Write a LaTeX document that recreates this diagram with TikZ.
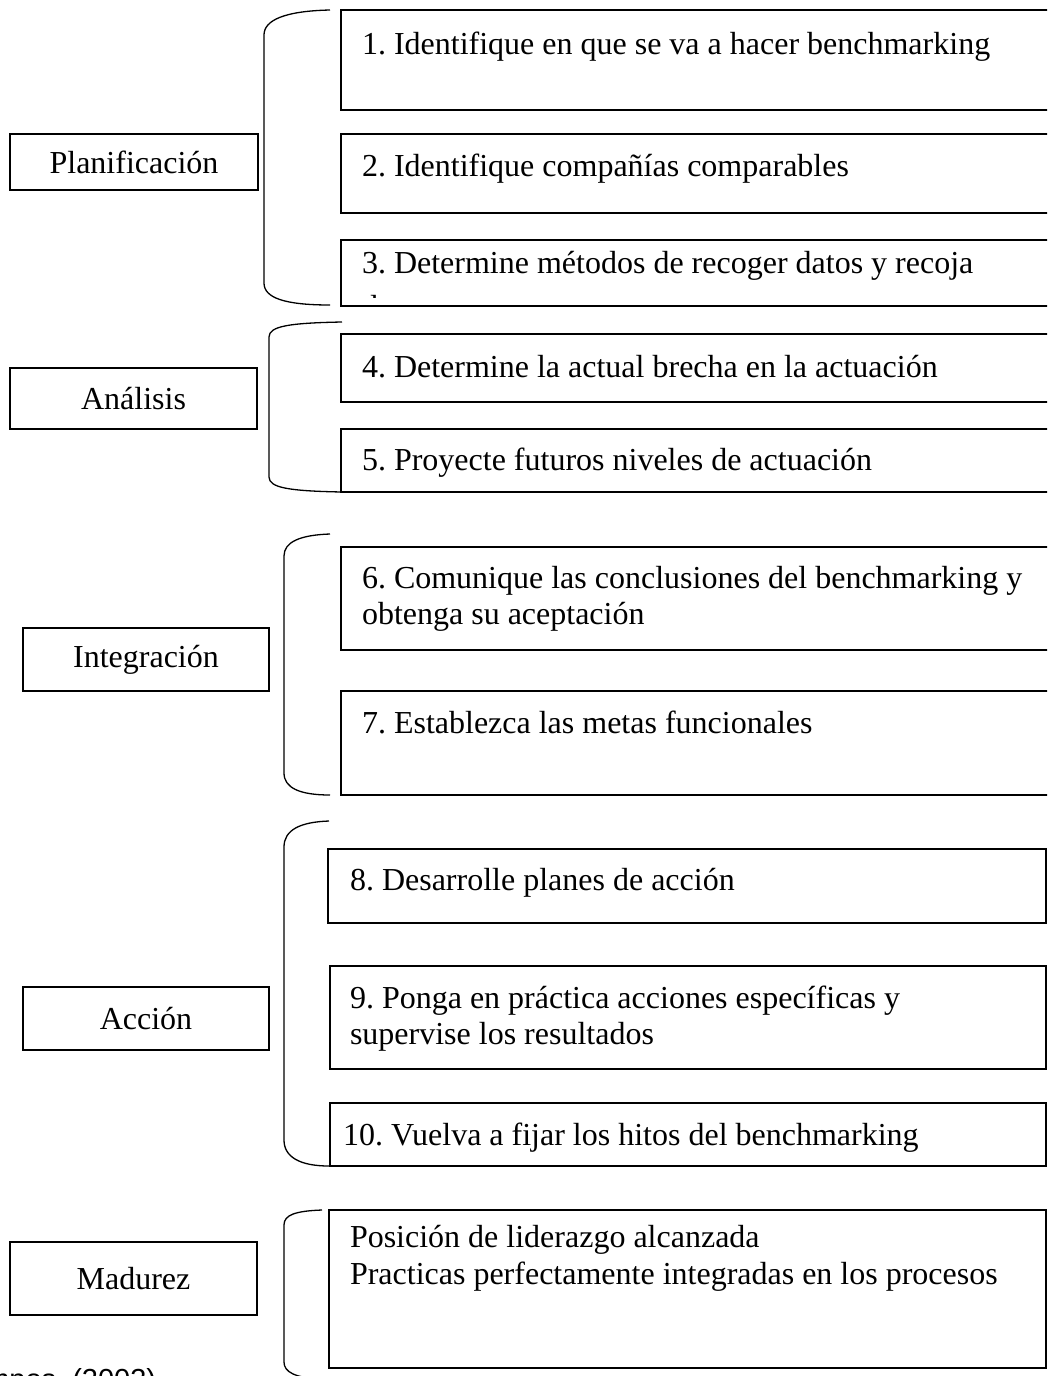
\documentclass[tikz,border=0pt]{standalone}
\usepackage{fontspec}
\setmainfont{Liberation Serif}
\newfontfamily\arialf{Liberation Sans}
\frenchspacing
\begin{document}
\begin{tikzpicture}[x=1pt,y=-1pt,
  box/.style={draw, line width=1.5pt, rectangle, inner sep=0pt, outer sep=0pt, anchor=north west},
  lbl/.style={draw, line width=1.5pt, rectangle, inner sep=0pt, outer sep=0pt, anchor=north west, font=\fontsize{32}{36.8}\selectfont},
  txt/.style={anchor=base west, inner sep=0pt, outer sep=0pt, font=\fontsize{32}{36.8}\selectfont},
  brc/.style={line width=1.3pt}]
\useasboundingbox (0,0) rectangle (1047,1376);
\clip (0,0) rectangle (1047,1376);
\fill[white] (0,0) rectangle (1047,1376);

% label boxes
\node[lbl, minimum width=248pt, minimum height=56pt] (plan) at (10,134) {Planificación};
\node[lbl, minimum width=247pt, minimum height=61pt] (anal) at (10,368) {Análisis};
\node[lbl, minimum width=246pt, minimum height=63pt] (integ) at (23,628) {Integración};
\node[lbl, minimum width=246pt, minimum height=63pt] (accion) at (23,987) {Acción};
\node[lbl, minimum width=247pt, minimum height=73pt] (madur) at (10,1242) {Madurez};

% braces
\draw[brc] (330,10) .. controls (285,11) and (264,20) .. (264,35) -- (264,283) .. controls (264,298) and (285,305) .. (330,305);
\draw[brc] (342,322) .. controls (290,323) and (269,326) .. (269,337) -- (269,477) .. controls (269,488) and (290,491) .. (342,492);
\draw[brc] (330,534) .. controls (300,535) and (284,542) .. (284,556) -- (284,773) .. controls (284,788) and (300,795) .. (330,795);
\draw[brc] (329,821) .. controls (300,822) and (284,830) .. (284,847) -- (284,1140) .. controls (284,1157) and (300,1166) .. (329,1166);
\draw[brc] (322,1210) .. controls (295,1211) and (284,1215) .. (284,1225) -- (284,1362) .. controls (284,1372) and (295,1378) .. (322,1379);

% step boxes
\node[box, minimum width=709pt, minimum height=100pt] (b1) at (341,10) {};
\node[box, minimum width=709pt, minimum height=79pt] (b2) at (341,134) {};
\node[box, minimum width=709pt, minimum height=66pt] (b3) at (341,240) {};
\node[box, minimum width=709pt, minimum height=68pt] (b4) at (341,334) {};
\node[box, minimum width=709pt, minimum height=63pt] (b5) at (341,429) {};
\node[box, minimum width=709pt, minimum height=103pt] (b6) at (341,547) {};
\node[box, minimum width=709pt, minimum height=104pt] (b7) at (341,691) {};
\node[box, minimum width=718pt, minimum height=74pt] (b8) at (328,849) {};
\node[box, minimum width=716pt, minimum height=103pt] (b9) at (330,966) {};
\node[box, minimum width=716pt, minimum height=63pt] (b10) at (330,1103) {};
\node[box, minimum width=717pt, minimum height=158pt] (b11) at (329,1210) {};

% texts
\node[txt] (t1) at (362,54) {1. Identifique en que se va a hacer benchmarking};
\node[txt] (t2) at (362,176) {2. Identifique compañías comparables};
\node[txt] (t3) at (362,273) {3. Determine métodos de recoger datos y recoja};
\begin{scope}
\clip (342,241) rectangle (1046,297);
\node[txt] (t3b) at (362,317) {datos};
\end{scope}
\node[txt] (t4) at (362,377) {4. Determine la actual brecha en la actuación};
\node[txt] (t5) at (362,470) {5. Proyecte futuros niveles de actuación};
\node[txt] (t6a) at (362,588) {6. Comunique las conclusiones del benchmarking y};
\node[txt] (t6b) at (362,624) {obtenga su aceptación};
\node[txt] (t7) at (362,733) {7. Establezca las metas funcionales};
\node[txt] (t8) at (350,890) {8. Desarrolle planes de acción};
\node[txt] (t9a) at (350,1008) {9. Ponga en práctica acciones específicas y};
\node[txt] (t9b) at (350,1044) {supervise los resultados};
\node[txt] (t10) at (343,1145) {10. Vuelva a fijar los hitos del benchmarking};
\node[txt] (t11a) at (350,1247) {Posición de liderazgo alcanzada};
\node[txt] (t11b) at (350,1284) {Practicas perfectamente integradas en los procesos};

% source (clipped at bottom, as in the reference)
\node[anchor=base west, inner sep=0pt, font=\arialf\fontsize{29}{34}\selectfont] (src) at (-52,1389) {Campos, (2003)};
\end{tikzpicture}
\end{document}
